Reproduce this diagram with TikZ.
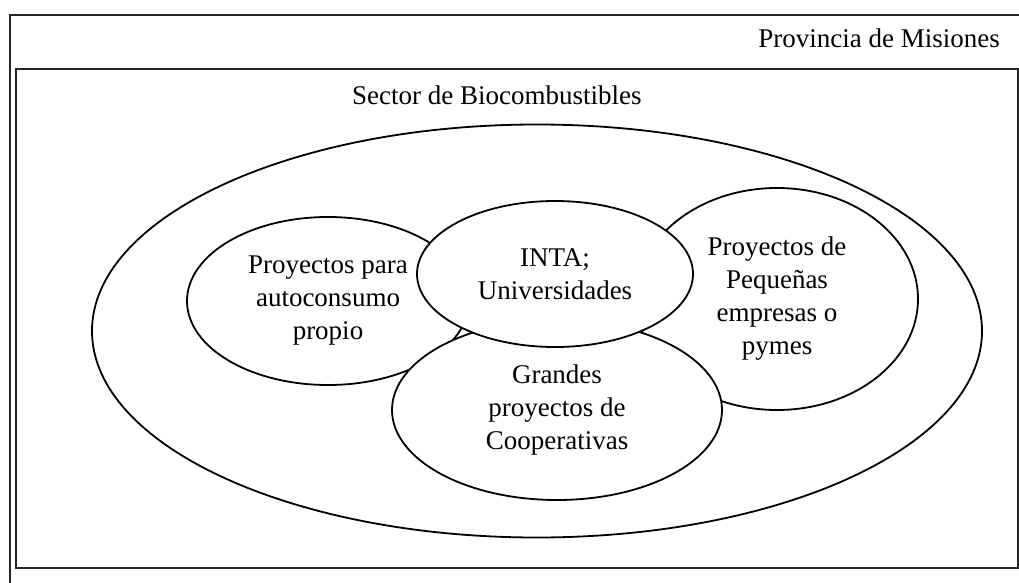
\documentclass[tikz,border=0pt]{standalone}
\usepackage{fontspec}
\setmainfont{Liberation Serif}
\usetikzlibrary{shapes.geometric}
\tikzset{
  frame/.style={draw=black!85, line width=2.4pt},
  zone/.style={ellipse, draw, line width=1.8pt, fill=white, inner sep=0pt, align=center, font=\fontsize{27pt}{33pt}\selectfont},
  caption/.style={inner sep=0pt, font=\fontsize{27pt}{33pt}\selectfont}
}

\begin{document}
\begin{tikzpicture}[x=1pt, y=-1pt]
\clip (0,0) rectangle (1019,583);

% frames
\draw[frame] (10,15) rectangle (1040,600);
\draw[frame] (16,69) rectangle (1018,568);

% labels
\node[caption, anchor=base east] (prov) at (1000,48) {Provincia de Misiones};
\node[caption, anchor=base west] (sector) at (352,105) {Sector de Biocombustibles};

% ellipses
\node[zone, minimum width=890pt, minimum height=413pt] (bio) at (537,331) {};
\node[zone, minimum width=282pt, minimum height=168pt] (auto) at (328,301) {Proyectos para\\autoconsumo\\propio};
\node[zone, minimum width=282pt, minimum height=222pt] (pymes) at (777,299) {Proyectos de\\Pequeñas\\empresas o\\pymes};
\node[zone, minimum width=330pt, minimum height=180pt] (coop) at (557,410) {Grandes\\proyectos de\\Cooperativas};
\node[zone, minimum width=276pt, minimum height=146pt] (inta) at (555,274) {INTA;\\Universidades};
\end{tikzpicture}
\end{document}
